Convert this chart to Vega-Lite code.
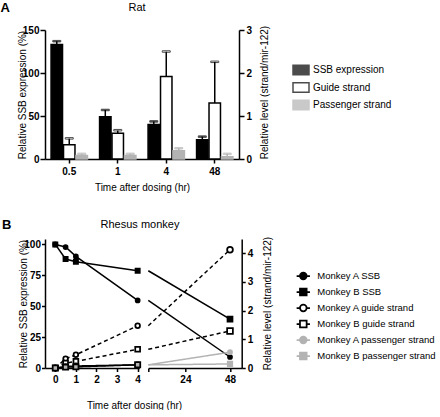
{
  "$schema": "https://vega.github.io/schema/vega-lite/v6.json",
  "padding": {"left": 0, "top": 2, "right": 0, "bottom": 0},
  "config": {
    "font": "Liberation Sans",
    "view": {"stroke": null},
    "axis": {
      "grid": false,
      "domainColor": "black",
      "domainWidth": 1.5,
      "tickColor": "black",
      "tickWidth": 1.5,
      "labelFont": "Liberation Sans",
      "labelFontSize": 10,
      "labelFontWeight": "bold",
      "labelColor": "black",
      "labelPadding": 2,
      "titleFont": "Liberation Sans",
      "titleFontSize": 10,
      "titleFontWeight": "normal",
      "titleColor": "black"
    },
    "title": {"font": "Liberation Sans", "fontSize": 11, "fontWeight": "normal", "color": "black"},
    "legend": {"labelFont": "Liberation Sans", "labelFontSize": 10, "labelColor": "black", "padding": 0}
  },
  "datasets": {
    "rat": [
      {"time": "0.5", "series": "SSB expression", "val": 133, "hi": 137},
      {"time": "1", "series": "SSB expression", "val": 49, "hi": 57},
      {"time": "4", "series": "SSB expression", "val": 40, "hi": 43.7},
      {"time": "48", "series": "SSB expression", "val": 22.4, "hi": 26},
      {"time": "0.5", "series": "Guide strand", "val": 0.33, "hi": 0.48},
      {"time": "1", "series": "Guide strand", "val": 0.6, "hi": 0.67},
      {"time": "4", "series": "Guide strand", "val": 1.92, "hi": 2.5},
      {"time": "48", "series": "Guide strand", "val": 1.3, "hi": 2.26},
      {"time": "0.5", "series": "Passenger strand", "val": 0.08, "hi": 0.12},
      {"time": "1", "series": "Passenger strand", "val": 0.08, "hi": 0.12},
      {"time": "4", "series": "Passenger strand", "val": 0.19, "hi": 0.25},
      {"time": "48", "series": "Passenger strand", "val": 0.05, "hi": 0.12}
    ],
    "monkey": [
      {"series": "Monkey A SSB", "kind": "ssb", "t": 0, "v": 100},
      {"series": "Monkey A SSB", "kind": "ssb", "t": 0.5, "v": 97.9},
      {"series": "Monkey A SSB", "kind": "ssb", "t": 1, "v": 90.3},
      {"series": "Monkey A SSB", "kind": "ssb", "t": 4, "v": 54.7},
      {"series": "Monkey A SSB", "kind": "ssb", "t": 48, "v": 8.9},
      {"series": "Monkey B SSB", "kind": "ssb", "t": 0, "v": 100},
      {"series": "Monkey B SSB", "kind": "ssb", "t": 0.5, "v": 88.2},
      {"series": "Monkey B SSB", "kind": "ssb", "t": 1, "v": 86},
      {"series": "Monkey B SSB", "kind": "ssb", "t": 4, "v": 78.7},
      {"series": "Monkey B SSB", "kind": "ssb", "t": 48, "v": 39.5},
      {"series": "Monkey A guide strand", "kind": "strand", "t": 0, "v": 0},
      {"series": "Monkey A guide strand", "kind": "strand", "t": 0.5, "v": 0.32},
      {"series": "Monkey A guide strand", "kind": "strand", "t": 1, "v": 0.46},
      {"series": "Monkey A guide strand", "kind": "strand", "t": 4, "v": 1.47},
      {"series": "Monkey A guide strand", "kind": "strand", "t": 48, "v": 4.12},
      {"series": "Monkey B guide strand", "kind": "strand", "t": 0, "v": 0},
      {"series": "Monkey B guide strand", "kind": "strand", "t": 0.5, "v": 0.17},
      {"series": "Monkey B guide strand", "kind": "strand", "t": 1, "v": 0.23},
      {"series": "Monkey B guide strand", "kind": "strand", "t": 4, "v": 0.65},
      {"series": "Monkey B guide strand", "kind": "strand", "t": 48, "v": 1.29},
      {"series": "Monkey A passenger strand", "kind": "strand", "t": 0, "v": 0},
      {"series": "Monkey A passenger strand", "kind": "strand", "t": 0.5, "v": 0.05},
      {"series": "Monkey A passenger strand", "kind": "strand", "t": 1, "v": 0.07},
      {"series": "Monkey A passenger strand", "kind": "strand", "t": 4, "v": 0.11},
      {"series": "Monkey A passenger strand", "kind": "strand", "t": 48, "v": 0.55},
      {"series": "Monkey B passenger strand", "kind": "strand", "t": 0, "v": 0},
      {"series": "Monkey B passenger strand", "kind": "strand", "t": 0.5, "v": 0.03},
      {"series": "Monkey B passenger strand", "kind": "strand", "t": 1, "v": 0.04},
      {"series": "Monkey B passenger strand", "kind": "strand", "t": 4, "v": 0.11},
      {"series": "Monkey B passenger strand", "kind": "strand", "t": 48, "v": 0.14}
    ]
  },
  "spacing": 27,
  "resolve": {"scale": {"color": "independent", "fill": "independent", "stroke": "independent", "shape": "independent", "strokeDash": "independent", "size": "independent"}},
  "vconcat": [
    {
      "title": {"text": "A", "orient": "left", "angle": 0, "anchor": "end", "fontSize": 13, "fontWeight": "bold", "offset": -2},
      "resolve": {"scale": {"color": "independent", "fill": "independent", "stroke": "independent"}},
      "vconcat": [
        {
          "title": {"text": "Rat", "offset": 12, "dx": -5, "anchor": "middle"},
          "width": 194,
          "height": 129,
          "data": {"name": "rat"},
          "encoding": {
            "x": {
              "field": "time", "type": "nominal", "sort": ["0.5", "1", "4", "48"],
              "scale": {"paddingInner": 0.25, "paddingOuter": 0.125},
              "axis": {"title": "Time after dosing (hr)", "labelAngle": 0, "tickSize": 4, "labelPadding": 3, "titlePadding": 6}
            },
            "xOffset": {
              "field": "series", "sort": ["SSB expression", "Guide strand", "Passenger strand"],
              "scale": {"paddingInner": 0.08, "paddingOuter": 0}
            },
            "fill": {
              "field": "series", "type": "nominal",
              "sort": ["SSB expression", "Guide strand", "Passenger strand"],
              "scale": {"domain": ["SSB expression", "Guide strand", "Passenger strand"], "range": ["black", "white", "#b3b3b3"]},
              "legend": {
                "title": null, "orient": "none", "legendX": 247, "legendY": 31,
                "symbolType": "M-1,-0.6H1V0.6H-1Z", "symbolSize": 256, "symbolStrokeWidth": 1.5,
                "rowPadding": 0.5, "labelOffset": 3
              }
            },
            "stroke": {
              "field": "series", "type": "nominal",
              "scale": {"domain": ["SSB expression", "Guide strand", "Passenger strand"], "range": ["black", "black", "#b3b3b3"]}
            }
          },
          "layer": [
            {
              "transform": [{"filter": "datum.series == 'SSB expression'"}],
              "encoding": {
                "y": {
                  "field": "val", "type": "quantitative",
                  "scale": {"domain": [0, 150], "nice": false},
                  "axis": {"title": "Relative SSB expression (%)", "values": [0, 50, 100, 150], "tickSize": 5, "labelPadding": 1, "titlePadding": -5}
                }
              },
              "layer": [
                {"mark": {"type": "bar", "strokeWidth": 1.5}},
                {"mark": {"type": "rule", "strokeWidth": 1.5}, "encoding": {"y2": {"field": "hi"}}},
                {"mark": {"type": "tick", "size": 8, "thickness": 1.5}, "encoding": {"y": {"field": "hi", "type": "quantitative", "title": "Relative SSB expression (%)"}}}
              ]
            },
            {
              "transform": [{"filter": "datum.series != 'SSB expression'"}],
              "encoding": {
                "y": {
                  "field": "val", "type": "quantitative",
                  "scale": {"domain": [0, 3], "nice": false},
                  "axis": {"title": "Relative level (strand/mir-122)", "orient": "right", "values": [0, 1, 2, 3], "tickSize": 5, "titleAngle": 270, "titleX": 20, "titleY": 62, "titleBaseline": "top"}
                }
              },
              "layer": [
                {"mark": {"type": "bar", "strokeWidth": 1.5}},
                {"mark": {"type": "rule", "strokeWidth": 1.5}, "encoding": {"y2": {"field": "hi"}}},
                {"mark": {"type": "tick", "size": 8, "thickness": 1.5}, "encoding": {"y": {"field": "hi", "type": "quantitative", "title": "Relative level (strand/mir-122)"}}}
              ]
            }
          ],
          "resolve": {"scale": {"y": "independent"}}
        }
      ]
    },
    {
      "title": {"text": "B", "orient": "left", "angle": 0, "anchor": "end", "fontSize": 13, "fontWeight": "bold", "offset": -2},
      "resolve": {"scale": {"color": "independent", "fill": "independent", "stroke": "independent", "shape": "independent", "strokeDash": "independent", "size": "independent"}},
      "vconcat": [
        {
          "title": {"text": "Rhesus monkey", "offset": 6, "anchor": "middle", "frame": "group", "dx": 95},
          "spacing": 8.3,
          "bounds": "flush",
          "resolve": {"scale": {"color": "independent", "fill": "independent", "stroke": "independent", "shape": "independent", "strokeDash": "independent", "size": "independent"}},
          "hconcat": [
            {
              "width": 94.3,
              "height": 129,
              "data": {"name": "monkey"},
              "transform": [{"filter": "datum.t <= 4"}],
              "encoding": {
                "x": {
                  "field": "t", "type": "quantitative",
                  "scale": {"domain": [-0.5, 4.08], "nice": false, "zero": false},
                  "axis": {"values": [0, 1, 2, 3, 4], "title": "Time after dosing (hr)", "tickSize": 3.5, "labelPadding": 3, "titleX": 89, "titleY": 32}
                }
              },
              "layer": [
                {
                  "transform": [{"filter": "datum.kind == 'ssb'"}],
                  "encoding": {
                    "y": {
                      "field": "v", "type": "quantitative",
                      "scale": {"domain": [0, 104.4], "nice": false},
                      "axis": {"title": "Relative SSB expression (%)", "values": [0, 25, 50, 75, 100], "tickSize": 3.5, "labelPadding": 1, "titlePadding": -4.9}
                    }
                  },
                  "layer": [
                    {
                      "mark": {"type": "line", "strokeWidth": 1.5},
                      "encoding": {
                        "stroke": {"field": "series", "type": "nominal", "scale": {"domain": ["Monkey A SSB", "Monkey B SSB"], "range": ["black", "black"]}, "legend": null}
                      }
                    },
                    {
                      "mark": {"type": "point", "opacity": 1, "strokeWidth": 1.5},
                      "encoding": {
                        "shape": {"field": "series", "type": "nominal", "scale": {"domain": ["Monkey A SSB", "Monkey B SSB"], "range": ["circle", "square"]}, "legend": null},
                        "size": {"field": "series", "type": "nominal", "scale": {"domain": ["Monkey A SSB", "Monkey B SSB"], "range": [18, 27]}, "legend": null},
                        "fill": {"value": "black"},
                        "stroke": {"value": "black"}
                      }
                    }
                  ]
                },
                {
                  "transform": [{"filter": "datum.kind == 'strand'"}],
                  "encoding": {
                    "y": {
                      "field": "v", "type": "quantitative",
                      "scale": {"domain": [0, 4.49], "nice": false},
                      "axis": null
                    }
                  },
                  "layer": [
                    {
                      "mark": {"type": "line", "strokeWidth": 1.5},
                      "encoding": {
                        "stroke": {"field": "series", "type": "nominal", "scale": {"domain": ["Monkey A guide strand", "Monkey B guide strand", "Monkey A passenger strand", "Monkey B passenger strand"], "range": ["black", "black", "#b3b3b3", "#b3b3b3"]}, "legend": null},
                        "strokeDash": {"field": "series", "type": "nominal", "scale": {"domain": ["Monkey A guide strand", "Monkey B guide strand", "Monkey A passenger strand", "Monkey B passenger strand"], "range": [[4, 3], [4, 3], [1, 0], [1, 0]]}, "legend": null}
                      }
                    },
                    {
                      "mark": {"type": "point", "opacity": 1, "strokeWidth": 1.75},
                      "encoding": {
                        "shape": {"field": "series", "type": "nominal", "scale": {"domain": ["Monkey A guide strand", "Monkey B guide strand", "Monkey A passenger strand", "Monkey B passenger strand"], "range": ["circle", "square", "circle", "square"]}, "legend": null},
                        "size": {"field": "series", "type": "nominal", "scale": {"domain": ["Monkey A guide strand", "Monkey B guide strand", "Monkey A passenger strand", "Monkey B passenger strand"], "range": [33, 33, 16, 20]}, "legend": null},
                        "fill": {"field": "series", "type": "nominal", "scale": {"domain": ["Monkey A guide strand", "Monkey B guide strand", "Monkey A passenger strand", "Monkey B passenger strand"], "range": ["white", "white", "#b3b3b3", "#b3b3b3"]}, "legend": null},
                        "stroke": {"field": "series", "type": "nominal", "scale": {"domain": ["Monkey A guide strand", "Monkey B guide strand", "Monkey A passenger strand", "Monkey B passenger strand"], "range": ["black", "black", "#b3b3b3", "#b3b3b3"]}, "legend": null}
                      }
                    }
                  ]
                }
              ],
              "resolve": {"scale": {"y": "independent"}}
            },
            {
              "width": 93.4,
              "height": 129,
              "data": {"name": "monkey"},
              "transform": [{"filter": "datum.t >= 4"}],
              "encoding": {
                "x": {
                  "field": "t", "type": "quantitative",
                  "scale": {"domain": [4, 54.3], "nice": false, "zero": false},
                  "axis": {"values": [4, 24, 48], "labelExpr": "datum.value == 4 ? '' : datum.label", "title": null, "tickSize": 3.5, "labelPadding": 3}
                },
                "stroke": {
                  "field": "series", "type": "nominal",
                  "scale": {"domain": ["Monkey A SSB", "Monkey B SSB", "Monkey A guide strand", "Monkey B guide strand", "Monkey A passenger strand", "Monkey B passenger strand"], "range": ["black", "black", "black", "black", "#b3b3b3", "#b3b3b3"]}
                }
              },
              "layer": [
                {
                  "transform": [{"filter": "datum.kind == 'ssb'"}],
                  "encoding": {
                    "y": {
                      "field": "v", "type": "quantitative",
                      "scale": {"domain": [0, 104.4], "nice": false},
                      "axis": null
                    }
                  },
                  "layer": [
                    {"mark": {"type": "line", "strokeWidth": 1.5}},
                    {
                      "transform": [{"filter": "datum.t == 48 && indexof(datum.series, 'Monkey A') == 0"}],
                      "mark": {"type": "point", "shape": "circle", "size": 18, "opacity": 1, "strokeWidth": 1.5, "fill": "black"}
                    },
                    {
                      "transform": [{"filter": "datum.t == 48 && indexof(datum.series, 'Monkey B') == 0"}],
                      "mark": {"type": "point", "shape": "square", "size": 27, "opacity": 1, "strokeWidth": 1.5, "fill": "black"}
                    }
                  ]
                },
                {
                  "transform": [{"filter": "datum.kind == 'strand'"}],
                  "encoding": {
                    "y": {
                      "field": "v", "type": "quantitative",
                      "scale": {"domain": [0, 4.49], "nice": false},
                      "axis": {"title": "Relative level (strand/mir-122)", "orient": "right", "values": [0, 1, 2, 3, 4], "tickSize": 3.5, "titleAngle": 270, "titleX": 21, "titleY": 64, "titleBaseline": "top"}
                    }
                  },
                  "layer": [
                    {
                      "mark": {"type": "line", "strokeWidth": 1.5},
                      "encoding": {
                        "strokeDash": {"field": "series", "type": "nominal", "scale": {"domain": ["Monkey A guide strand", "Monkey B guide strand", "Monkey A passenger strand", "Monkey B passenger strand"], "range": [[4, 3], [4, 3], [1, 0], [1, 0]]}, "legend": null}
                      }
                    },
                    {
                      "transform": [{"filter": "datum.t == 48 && indexof(datum.series, 'Monkey A') == 0"}],
                      "mark": {"type": "point", "shape": "circle", "opacity": 1, "strokeWidth": 1.75},
                      "encoding": {
                        "size": {"field": "series", "type": "nominal", "scale": {"domain": ["Monkey A guide strand", "Monkey A passenger strand"], "range": [33, 16]}, "legend": null},
                        "fill": {"field": "series", "type": "nominal", "scale": {"domain": ["Monkey A guide strand", "Monkey A passenger strand"], "range": ["white", "#b3b3b3"]}, "legend": null}
                      }
                    },
                    {
                      "transform": [{"filter": "datum.t == 48 && indexof(datum.series, 'Monkey B') == 0"}],
                      "mark": {"type": "point", "shape": "square", "opacity": 1, "strokeWidth": 1.75},
                      "encoding": {
                        "size": {"field": "series", "type": "nominal", "scale": {"domain": ["Monkey B guide strand", "Monkey B passenger strand"], "range": [33, 20]}, "legend": null},
                        "fill": {"field": "series", "type": "nominal", "scale": {"domain": ["Monkey B guide strand", "Monkey B passenger strand"], "range": ["white", "#b3b3b3"]}, "legend": null}
                      }
                    }
                  ],
                  "resolve": {"scale": {"size": "independent", "fill": "independent"}}
                },
                {
                  "mark": {"type": "point", "opacity": 0},
                  "encoding": {
                    "shape": {
                      "field": "series", "type": "nominal",
                      "scale": {
                        "domain": ["Monkey A SSB", "Monkey B SSB", "Monkey A guide strand", "Monkey B guide strand", "Monkey A passenger strand", "Monkey B passenger strand"],
                        "range": [
                          "M-1,0H-0.5M-0.5,0A0.5,0.5 0 1,1 0.5,0A0.5,0.5 0 1,1 -0.5,0ZM0.5,0H1",
                          "M-1,0H-0.5M-0.5,-0.5H0.5V0.5H-0.5ZM0.5,0H1",
                          "M-1,0H-0.5M-0.5,0A0.5,0.5 0 1,1 0.5,0A0.5,0.5 0 1,1 -0.5,0ZM0.5,0H1",
                          "M-1,0H-0.5M-0.5,-0.5H0.5V0.5H-0.5ZM0.5,0H1",
                          "M-1,0H-0.5M-0.5,0A0.5,0.5 0 1,1 0.5,0A0.5,0.5 0 1,1 -0.5,0ZM0.5,0H1",
                          "M-1,0H-0.5M-0.5,-0.5H0.5V0.5H-0.5ZM0.5,0H1"
                        ]
                      },
                      "legend": {
                        "title": null, "orient": "none", "legendX": 147, "legendY": 29,
                        "symbolSize": 177, "symbolStrokeWidth": 1.75, "symbolOpacity": 1,
                        "rowPadding": 1, "labelOffset": 6, "labelFontSize": 9.5,
                        "encode": {"symbols": {"update": {"opacity": {"value": 1}}}}
                      }
                    },
                    "fill": {
                      "field": "series", "type": "nominal",
                      "scale": {
                        "domain": ["Monkey A SSB", "Monkey B SSB", "Monkey A guide strand", "Monkey B guide strand", "Monkey A passenger strand", "Monkey B passenger strand"],
                        "range": ["black", "black", "white", "white", "#b3b3b3", "#b3b3b3"]
                      }
                    }
                  }
                }
              ],
              "resolve": {"scale": {"y": "independent"}}
            }
          ]
        }
      ]
    }
  ]
}
